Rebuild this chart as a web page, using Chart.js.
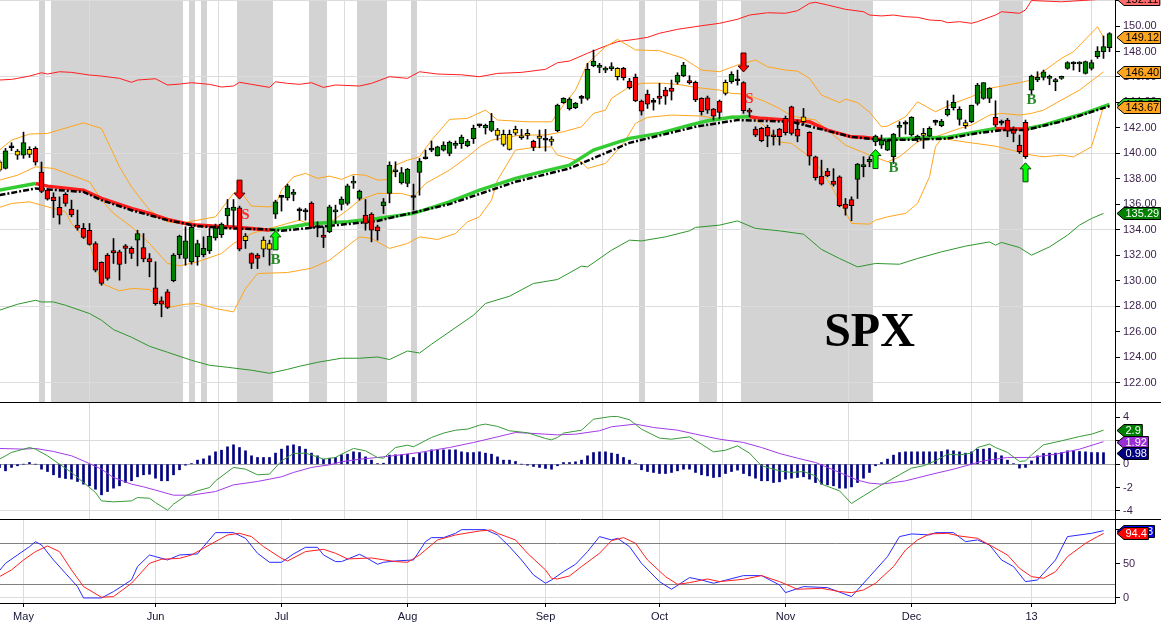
<!DOCTYPE html>
<html>
<head>
<meta charset="utf-8">
<title>SPX</title>
<script src="https://cdn.jsdelivr.net/npm/chart.js@4.4.1/dist/chart.umd.min.js"></script>
<style>
  html, body { margin: 0; padding: 0; background: #fff; }
  #wrap { position: relative; width: 1161px; height: 626px; overflow: hidden; }
  .pane { position: absolute; left: 0; width: 1161px; }
  #pricePane { top: 0; height: 403px; }
  #macdPane { top: 403px; height: 117px; }
  #stochPane { top: 520px; height: 106px; }
</style>
</head>
<body>
<div id="wrap">
  <div class="pane" id="pricePane"><canvas id="priceChart"></canvas></div>
  <div class="pane" id="macdPane"><canvas id="macdChart"></canvas></div>
  <div class="pane" id="stochPane"><canvas id="stochChart"></canvas></div>
</div>
<script>
// one slot per session, slot 0 = 25 Apr 2012
var monthStarts = [4, 26, 47, 68, 91, 110, 131, 152, 172];
var monthNames = ['May', 'Jun', 'Jul', 'Aug', 'Sep', 'Oct', 'Nov', 'Dec', '13'];

var opens = [139.34,138.82,140.57,140.18,139.87,140.31,140.39,138.53,137.12,136.57,
  135.76,136.78,135.62,134.37,134.11,133.97,132.93,131.44,132.01,132.38,
  132.27,132.74,132.54,133.19,132.61,131.75,129.45,128.42,129.13,130.00,
  132.06,131.75,131.49,131.88,132.06,132.35,133.37,133.63,135.10,135.52,
  135.73,133.50,132.14,132.01,133.19,132.93,135.23,136.63,136.51,136.78,
  135.60,135.52,136.10,134.31,133.58,133.84,135.41,135.99,136.07,137.67,
  136.46,135.15,135.23,134.24,135.89,136.85,138.56,137.69,137.64,136.65,
  138.50,139.68,140.36,139.81,140.26,140.00,140.63,140.76,140.60,141.15,
  142.28,141.99,141.80,141.83,141.49,141.49,141.88,141.38,141.52,140.94,
  141.36,141.15,141.12,141.78,143.98,143.51,143.58,144.42,144.32,146.88,
  146.75,146.54,146.65,146.67,146.67,145.68,145.97,144.11,144.66,144.11,
  144.50,144.97,145.13,145.60,146.10,145.68,145.57,144.32,144.37,143.48,
  144.11,145.57,145.63,145.81,145.55,143.40,141.91,141.96,142.04,141.41,
  141.91,142.75,143.66,141.91,142.88,141.65,139.74,138.22,138.61,137.82,
  138.16,136.02,136.38,137.95,138.95,139.34,140.90,140.65,140.26,139.74,
  142.04,142.41,141.46,141.15,141.52,141.36,142.54,142.17,143.03,143.59,
  142.67,142.41,142.49,143.92,144.32,144.32,142.83,142.49,142.62,141.83,
  140.65,142.43,144.97,145.76,145.97,145.89,145.63,145.89,146.67,147.12,
  147.02,146.28,146.67,147.59,147.98,148.30];
var highs = [139.47,140.39,140.84,140.31,141.67,140.52,140.52,139.32,137.25,136.91,
  136.59,136.91,136.33,135.55,134.50,134.50,133.06,131.49,132.14,133.32,
  132.40,132.85,132.67,133.97,133.71,132.14,131.49,128.74,129.31,132.14,
  133.58,134.24,134.37,133.19,133.45,134.11,134.45,134.55,136.38,136.38,
  135.86,133.71,132.19,132.14,133.45,133.19,136.33,136.72,137.59,137.17,
  135.73,135.68,136.20,134.63,134.24,135.94,135.94,136.59,137.59,138.22,
  137.12,136.38,135.34,134.37,136.46,139.34,139.34,138.90,138.82,137.59,
  139.60,140.26,140.97,140.57,140.91,140.97,140.97,141.44,141.10,142.22,
  142.30,142.30,143.14,141.96,141.83,141.83,142.14,141.88,141.88,141.04,
  141.83,141.88,141.31,143.87,144.37,144.37,144.00,144.55,147.07,148.11,
  147.07,146.80,147.12,146.73,146.75,145.89,146.23,144.19,144.97,144.32,
  145.50,145.18,145.76,146.33,147.15,146.10,145.68,144.37,144.50,143.53,
  144.19,145.76,146.41,146.54,145.63,143.53,142.09,142.04,142.22,141.83,
  141.96,142.93,143.71,142.62,143.53,141.70,139.79,139.47,138.82,138.80,
  138.24,136.46,136.59,139.21,139.74,139.74,141.44,141.44,141.10,141.57,
  142.49,142.56,142.88,141.44,141.96,142.09,142.62,142.67,144.13,144.58,
  143.66,142.62,143.79,145.50,145.55,145.16,144.13,142.62,142.75,142.09,
  141.44,142.62,146.15,146.41,146.54,146.15,145.89,146.07,147.20,147.20,
  147.20,147.25,147.33,148.38,149.21,149.48];
var lows = [138.56,138.77,140.21,139.53,139.61,139.68,139.08,136.91,136.33,134.97,
  134.45,135.86,135.02,133.97,133.32,132.80,130.70,129.65,130.05,131.36,
  130.05,131.36,131.75,131.17,131.49,130.31,128.08,127.17,127.82,129.92,
  131.75,131.22,131.30,131.22,131.88,132.14,133.19,133.40,134.37,134.24,
  132.35,132.54,130.96,130.96,131.88,131.22,134.89,135.47,136.33,136.28,
  134.76,134.76,134.11,133.45,132.61,133.77,134.50,135.55,135.94,137.25,
  136.33,133.97,133.06,133.19,135.28,136.12,138.16,137.59,137.38,135.55,
  136.72,139.55,140.13,139.79,140.18,139.81,140.39,140.39,140.52,140.78,
  142.04,141.52,141.70,141.04,140.57,140.26,141.44,141.10,141.12,140.21,
  140.44,140.18,140.63,141.70,143.92,143.40,143.51,143.92,144.19,146.80,
  146.33,146.33,146.49,145.76,145.76,145.05,144.06,143.01,143.53,143.40,
  143.87,143.85,144.19,145.44,146.02,145.44,144.06,143.01,143.14,142.62,
  142.75,144.58,145.50,145.36,143.14,142.88,141.31,140.91,140.52,140.65,
  140.65,141.44,141.44,140.91,142.22,139.08,137.90,137.51,138.16,137.43,
  135.81,135.15,134.71,136.46,138.16,138.95,140.60,140.39,140.21,139.21,
  141.31,141.52,141.36,140.91,140.39,141.31,142.22,142.09,142.93,143.40,
  142.22,141.96,142.41,143.79,144.24,143.98,142.09,142.22,141.31,140.91,
  140.00,139.60,144.58,145.63,145.76,145.39,144.92,145.81,146.60,146.54,
  146.41,146.23,146.54,147.46,147.46,147.98];
var closes = [138.69,140.21,140.44,139.87,140.84,139.92,139.32,137.01,136.41,136.28,
  135.15,136.07,135.18,134.13,133.40,132.85,130.83,129.79,130.18,132.19,
  131.28,132.54,132.14,133.71,131.72,131.49,128.21,128.16,127.90,132.01,
  133.50,133.14,134.19,132.93,132.54,133.50,134.16,134.45,135.70,135.78,
  132.48,133.14,131.36,131.75,132.48,132.46,136.20,136.55,137.46,136.96,
  135.49,135.41,134.18,134.18,133.40,135.81,135.52,136.41,137.46,137.77,
  137.04,134.50,133.97,133.92,136.20,139.08,138.69,138.50,138.77,136.54,
  139.39,139.58,140.26,140.52,140.65,140.89,140.76,141.28,140.97,141.96,
  142.17,142.20,142.51,141.41,140.70,140.31,141.59,141.23,141.41,140.47,
  141.18,141.04,140.94,143.79,144.32,144.26,143.95,144.32,146.60,147.25,
  146.94,146.65,146.78,146.02,145.94,145.15,144.11,143.32,143.87,144.00,
  144.32,144.50,144.87,146.15,146.94,145.55,144.19,143.27,143.40,142.93,
  143.22,144.71,146.20,145.70,143.35,143.24,141.44,140.99,141.36,141.31,
  141.31,141.62,141.57,141.36,142.49,139.79,138.09,137.59,138.24,137.56,
  135.89,135.68,135.89,139.16,139.13,139.53,141.36,141.04,140.97,141.52,
  142.14,142.30,142.83,141.36,141.41,141.96,142.43,142.54,143.45,144.00,
  143.45,142.17,143.79,145.36,145.55,145.10,142.22,142.38,141.75,141.57,
  140.13,139.74,146.07,145.97,146.41,145.99,145.76,145.99,147.12,147.02,
  147.12,147.20,147.12,148.04,148.38,149.40];
// G up, R down, Y neutral, K doji
var tones = 'YGKYGYRRRR' + 'RRRRRRRRRR' + 'RRRGRRRRRG' + 'GGGGGGGGGG' + 'RYRRYYGKGG' +
  'KKRKRGGGGG' + 'GRRRGGGGGK' + 'GKKGGGGGGG' + 'KGGYYYYYYR' + 'YKYGGGGKGG' +
  'GGGYRRRRRK' + 'RRRGGRRRRR' + 'RYGKRRRRRR' + 'RRRRYRRRRR' + 'RRRGGGGGGG' +
  'GKGGYGKGGG' + 'GYGGGGRKRR' + 'RRGGGGGGGK' + 'GGGGGG';

// [session, value] readings
var envUpper = [[0,145.76],[2,145.81],[3,145.89],[5,146.07],[7,146.33],[8,146.23],[10,146.41],[12,146.36],[15,146.15],[17,146.07],[20,145.89],[22,145.58],[23,145.76],[26,145.86],[28,145.37],[30,145.44],[32,145.55],[35,145.42],[37,145.21],[39,145.29],[40,145.58],[42,145.42],[45,145.18],[46,145.62],[48,145.5],[50,145.42],[52,145.55],[54,145.18],[56,145.37],[60,145.29],[62,145.5],[65,146.02],[68,145.89],[70,146.41],[73,146.23],[77,146.17],[80,146.02],[83,146.28],[87,146.36],[91,146.6],[93,147.12],[95,147.25],[98,147.86],[101,148.43],[103,148.77],[106,148.96],[108,149.11],[110,149.43],[113,149.74],[117,150.02],[120,150.21],[123,150.53],[125,150.86],[128,151.04],[131,151.0],[133,151.2],[135,151.78],[136,151.86],[138,151.65],[141,151.31],[144,151.12],[145,150.86],[147,150.79],[149,150.86],[151,150.73],[153,150.68],[155,150.47],[157,150.42],[158,150.26],[160,150.34],[162,150.21],[163,150.34],[166,150.86],[167,151.12],[170,151.0],[171,151.26],[172,152.0],[177,151.9],[184,152.11]];
var envLower = [[0,127.69],[3,128.16],[6,128.47],[7,128.34],[9,128.34],[11,128.08],[15,127.43],[17,126.9],[19,126.17],[22,125.57],[25,124.86],[28,124.39],[32,123.76],[35,123.37],[38,123.21],[42,122.98],[45,122.74],[48,123.05],[50,123.29],[53,123.6],[57,123.92],[60,123.92],[63,124.02],[65,123.82],[68,124.49],[70,124.33],[72,125.02],[79,127.3],[81,128.22],[85,128.79],[89,129.79],[93,130.1],[97,131.15],[98,131.09],[102,132.4],[105,133.19],[107,133.13],[111,133.45],[115,133.92],[116,134.19],[120,134.37],[123,134.7],[126,134.11],[130,133.92],[134,133.66],[137,132.46],[140,131.75],[143,131.09],[146,131.36],[150,131.3],[153,131.75],[157,132.27],[161,132.72],[165,133.05],[166,132.8],[167,133.01],[170,132.61],[172,132.01],[175,132.66],[178,133.58],[180,134.37],[182,134.89],[184,135.29]];
var bbUpper = [[0,140.26],[2,141.04],[5,141.52],[8,141.57],[14,142.4],[17,141.96],[20,138.95],[22,137.37],[25,135.55],[28,134.63],[30,134.5],[33,134.76],[36,135.02],[39,136.86],[40,137.12],[42,135.86],[45,135.8],[46,135.94],[47,137.12],[49,138.16],[51,138.43],[53,138.04],[55,138.22],[57,137.96],[59,138.35],[61,138.29],[63,137.9],[65,137.96],[66,139.08],[68,139.47],[70,139.73],[72,141.04],[75,142.67],[78,142.75],[81,143.4],[83,142.62],[88,142.48],[92,142.48],[94,143.79],[96,144.97],[98,147.07],[101,148.37],[103,148.95],[106,148.12],[110,148.06],[114,147.46],[117,146.54],[120,146.41],[123,146.94],[126,147.33],[128,146.8],[131,146.54],[133,146.46],[135,145.89],[137,144.58],[140,143.99],[141,144.26],[143,143.99],[145,143.24],[147,142.09],[148,142.14],[151,142.87],[153,144.05],[156,143.27],[159,143.93],[162,144.45],[165,145.11],[168,145.37],[170,145.55],[172,145.76],[177,147.46],[179,147.98],[183,149.94],[184,149.12]];
var bbMid = [[0,137.9],[3,138.29],[6,138.95],[9,138.82],[12,138.29],[15,137.77],[17,136.33],[19,135.29],[22,134.23],[25,132.93],[27,131.88],[28,131.36],[30,131.17],[33,131.49],[37,132.14],[39,132.93],[42,133.71],[45,134.11],[47,134.37],[50,134.76],[52,134.37],[55,134.55],[58,135.55],[60,136.33],[63,136.86],[67,136.86],[69,136.59],[71,137.64],[75,138.69],[78,139.73],[80,140.52],[82,141.04],[85,141.3],[87,141.44],[91,141.44],[94,141.7],[97,142.09],[99,143.14],[101,143.4],[102,144.32],[105,145.23],[107,145.5],[110,145.52],[113,145.42],[116,145.18],[120,144.97],[122,144.71],[124,144.66],[127,144.19],[130,143.53],[132,142.93],[136,142.62],[140,141.04],[141,140.65],[145,139.87],[148,139.34],[150,139.73],[153,140.91],[156,141.3],[160,141.96],[162,142.22],[165,143.01],[167,143.14],[170,143.01],[172,143.14],[174,143.4],[177,144.19],[180,144.97],[184,146.4]];
var bbLower = [[0,135.76],[2,136.07],[5,136.2],[7,135.94],[11,135.41],[12,134.5],[15,132.93],[17,129.79],[20,129.21],[22,129.4],[25,129.32],[28,127.9],[31,128.16],[33,128.22],[36,127.82],[39,127.56],[41,129.39],[43,130.57],[48,130.65],[52,130.99],[55,131.62],[60,133.45],[62,133.32],[65,132.54],[68,132.93],[70,133.45],[73,133.24],[76,133.71],[78,134.63],[80,135.02],[82,136.33],[83,137.9],[86,140.26],[89,140.47],[92,140.52],[93,139.87],[97,139.34],[98,138.82],[101,139.21],[104,140.79],[106,142.36],[108,142.83],[112,143.01],[117,142.93],[120,142.67],[122,142.93],[125,142.83],[127,142.36],[130,140.89],[132,140.79],[135,139.73],[137,138.69],[139,137.12],[141,135.41],[142,134.5],[145,134.45],[146,134.76],[148,135.02],[151,135.29],[153,136.07],[155,138.16],[156,140.52],[157,141.18],[161,140.89],[166,140.57],[170,140.1],[172,139.87],[174,139.73],[177,139.87],[179,139.73],[182,140.52],[183,142.09],[184,143.67]];
var maFast = [[0,137.12],[6,137.64],[8,137.43],[14,137.12],[17,136.47],[22,135.68],[25,135.29],[28,134.81],[31,134.5],[33,134.37],[36,134.29],[39,134.23],[42,134.11],[45,133.97],[47,134.11],[52,134.5],[58,134.63],[63,134.89],[69,135.29],[75,136.2],[80,137.12],[86,138.04],[91,138.63],[95,139.08],[99,140.26],[105,141.18],[110,141.57],[115,142.22],[118,142.56],[122,142.83],[125,142.87],[127,142.75],[131,142.62],[135,142.48],[138,141.83],[142,141.3],[144,141.26],[147,141.1],[152,141.18],[158,141.26],[163,141.7],[166,141.96],[171,141.91],[174,142.22],[177,142.62],[180,143.01],[185,143.85]];
var maSlow = [[0,136.72],[6,137.25],[8,137.17],[14,136.98],[17,136.33],[22,135.54],[28,134.76],[33,134.29],[39,134.11],[45,134.03],[47,133.92],[63,134.7],[75,136.02],[86,137.77],[95,138.82],[105,140.83],[116,142.09],[123,142.62],[132,142.48],[142,141.3],[147,141.04],[152,141.08],[158,141.16],[163,141.59],[167,141.83],[171,141.83],[177,142.5],[185,143.71]];

var macdHist = [-0.3,-0.57,-0.28,-0.14,0,0.14,0,-0.43,-0.63,-0.91,
  -1.14,-1.23,-1.28,-1.48,-1.71,-1.85,-2.14,-2.62,-2.34,-2.05,
  -1.85,-1.57,-1.42,-1.08,-0.91,-0.86,-1.2,-1.42,-1.42,-0.91,
  -0.48,-0.09,0.05,0.34,0.45,0.71,1.05,1.19,1.48,1.65,
  1.42,1.14,0.71,0.57,0.57,0.57,0.94,1.28,1.56,1.65,
  1.51,1.28,0.94,0.71,0.43,0.51,0.57,0.8,0.85,1.05,
  0.99,0.62,0.34,0.05,0.08,0.77,0.8,0.8,0.85,0.57,
  0.94,0.99,1.22,1.22,1.22,1.22,1.22,1.05,0.99,0.99,
  1.05,0.94,0.85,0.62,0.34,0.34,0.23,0,-0.09,-0.2,
  -0.28,-0.37,-0.43,-0.14,0.14,0.14,0.2,0.34,0.71,0.99,
  1.05,1.05,0.94,0.85,0.57,0.34,0.03,-0.48,-0.63,-0.71,
  -0.8,-0.8,-0.71,-0.57,-0.43,-0.43,-0.71,-0.91,-1.0,-1.14,
  -1.08,-0.8,-0.63,-0.51,-0.8,-1.0,-1.2,-1.42,-1.42,-1.57,
  -1.51,-1.28,-1.2,-1.14,-1.08,-1.28,-1.57,-1.71,-1.77,-1.85,
  -2.05,-2.05,-1.94,-1.57,-1.2,-0.71,-0.14,0.14,0.43,0.77,
  0.99,1.05,1.05,1.05,1.05,1.05,1.05,1.08,1.22,1.14,
  1.05,0.94,1.05,1.28,1.28,1.34,0.99,0.71,0.34,0.03,
  -0.34,-0.28,0.28,0.71,0.91,0.94,0.94,0.99,1.14,1.14,
  1.08,1.05,0.99,0.99,0.98];
var macdLine = [[0,0.42],[2,1.0],[3,1.14],[5,1.42],[6,1.28],[8,0.71],[10,0],[12,-0.71],[14,-1.57],[16,-2.42],[17,-3.14],[19,-3.22],[22,-3.14],[23,-2.85],[25,-2.91],[26,-3.28],[28,-3.93],[29,-3.42],[31,-2.71],[33,-2.28],[35,-2.0],[36,-1.43],[39,-0.28],[41,-0.43],[43,-0.91],[45,-0.85],[47,0.28],[49,0.91],[51,0.94],[53,0.62],[54,0.42],[56,0.57],[57,0.85],[59,1.34],[61,1.14],[63,0.57],[64,0.51],[66,1.42],[68,1.62],[69,1.48],[72,2.28],[74,2.65],[76,2.9],[78,2.99],[80,3.33],[81,3.42],[83,3.22],[85,2.85],[88,2.68],[91,2.19],[92,2.08],[93,2.28],[94,2.65],[97,2.9],[99,3.84],[102,4.07],[103,4.07],[105,3.79],[107,2.99],[110,2.22],[112,2.13],[115,2.33],[117,1.71],[119,1.05],[121,1.19],[123,1.56],[125,0.94],[127,-0.14],[130,-0.57],[132,-0.71],[134,-0.63],[136,-1.0],[137,-1.71],[140,-2.28],[142,-3.36],[144,-2.71],[147,-1.77],[150,-0.91],[152,-0.34],[154,-0.14],[156,0.28],[158,0.85],[160,0.79],[162,0.94],[163,1.42],[165,1.71],[166,1.42],[168,1.0],[170,0.23],[171,0.28],[172,0.79],[174,1.65],[177,1.99],[180,2.36],[182,2.56],[184,2.9]];
var signalLine = [[0,1.34],[4,1.28],[6,1.34],[9,1.08],[12,0.71],[14,0.28],[17,-0.43],[19,-1.14],[22,-1.71],[24,-1.94],[26,-2.22],[29,-2.65],[32,-2.65],[36,-2.34],[39,-1.77],[43,-1.48],[47,-1.08],[49,-0.71],[52,-0.28],[55,-0.06],[57,0.2],[60,0.42],[63,0.57],[67,0.8],[70,1.0],[75,1.42],[79,1.85],[83,2.33],[86,2.7],[88,2.65],[91,2.56],[93,2.5],[96,2.56],[100,2.85],[102,3.19],[106,3.42],[109,3.13],[113,2.9],[116,2.56],[120,2.13],[124,1.85],[127,1.42],[130,0.91],[133,0.51],[136,0.14],[138,-0.28],[140,-0.71],[143,-1.37],[145,-1.62],[147,-1.71],[151,-1.43],[155,-0.91],[159,-0.43],[164,0.28],[168,0.57],[172,0.57],[176,0.85],[180,1.28],[184,1.92]];

var stochK = [[0,40],[1,50.7],[3,62.9],[5,75.1],[6,82.4],[7,77.6],[9,55.6],[11,36.1],[13,16.6],[14,0],[17,0],[19,9.3],[22,26.3],[23,45.9],[25,62.9],[26,60.5],[28,55.6],[30,62.9],[33,64.4],[34,75.1],[36,95.6],[39,95.6],[41,87.3],[43,65.4],[45,52.2],[47,52.2],[49,64.4],[51,74.1],[53,74.1],[54,62.9],[56,53.2],[57,53.2],[60,63.9],[61,59.5],[63,49.3],[64,52.2],[66,54.1],[69,55.6],[71,82.4],[72,88.3],[74,88.3],[76,94.6],[77,100],[81,100],[83,92.2],[85,75.1],[87,55.6],[89,33.7],[91,21.5],[92,26.3],[94,38.5],[96,49.3],[98,67.8],[100,89.8],[102,84.9],[103,87.3],[105,75.1],[107,50.7],[110,23.9],[112,12.7],[115,29.8],[117,26.3],[119,21.5],[124,32.7],[127,32.7],[130,19.0],[131,7.8],[134,16.6],[138,15.1],[142,2.0],[145,31.2],[148,60.5],[150,89.8],[152,93.7],[155,92.2],[156,95.6],[159,95.6],[161,82.4],[163,84.9],[165,77.6],[167,55.6],[169,45.9],[171,23.9],[173,26.3],[176,55.6],[178,89.8],[182,94.6],[184,98.53]];
var stochD = [[0,31.2],[2,41.0],[4,55.6],[6,67.8],[8,76.1],[10,67.8],[12,41.0],[14,16.6],[17,1.0],[19,2.0],[22,21.5],[25,50.7],[27,56.6],[30,58.0],[32,62.9],[35,77.6],[38,92.2],[40,94.6],[42,89.8],[44,75.1],[47,58.0],[48,54.1],[51,67.8],[54,71.2],[56,65.4],[58,57.1],[62,58.5],[66,53.2],[68,52.2],[70,62.9],[73,84.9],[76,92.2],[80,98.0],[82,99.5],[83,94.6],[86,84.9],[88,65.4],[91,41.0],[92,28.8],[93,27.8],[95,32.2],[97,45.9],[100,65.4],[102,83.9],[104,88.3],[106,80.0],[108,55.6],[111,31.2],[113,20.0],[115,22.4],[118,27.8],[120,23.9],[124,27.3],[127,32.7],[130,23.9],[133,12.7],[137,14.1],[140,9.3],[142,7.8],[144,11.7],[146,21.5],[149,45.9],[151,70.2],[153,84.9],[155,93.7],[158,94.6],[160,90.7],[163,87.3],[165,77.6],[168,62.9],[170,43.4],[172,31.2],[174,28.8],[176,38.5],[178,60.5],[181,80.0],[183,89.8],[184,94.4]];

// shaded sessions [first, last]
var shadeSpans = [[7,7],[9,30],[32,32],[34,34],[40,45],[52,54],[60,64],[69,69],[107,107],[117,119],[124,145],[167,170]];
// signals: [session, price at arrow tip]
var sellArrows = [[40,136.41],[124,146.39]];
var buyArrows = [[46,133.92],[146,140.3],[171,139.26]];
var signalLetters = [[41,135.15,'S'],[125,144.24,'S'],[46,131.62,'B'],[149,138.82,'B'],[172,144.19,'B']];

// ---------------------------------------------------------------
var FONT = '"Liberation Sans", Arial, sans-serif';
Chart.defaults.font.family = FONT;
Chart.defaults.font.size = 11;

function pts(pairs) {
  return pairs.map(function (p) { return { x: p[0], y: p[1] }; });
}
function last(pairs) { return pairs[pairs.length - 1][1]; }

function xAxis(showLabels) {
  return {
    type: 'linear', min: 0.5 / 6, max: 1115.5 / 6, offset: false,
    afterBuildTicks: function (s) { s.ticks = monthStarts.map(function (v) { return { value: v }; }); },
    afterFit: function (s) {
      s.height = showLabels ? 23 : 0;
      s.paddingLeft = 0; s.paddingRight = 0;
    },
    grid: { color: '#dcdcdc', drawTicks: showLabels, tickLength: 4, tickColor: '#000' },
    border: { display: showLabels, color: '#000' },
    ticks: {
      display: showLabels, autoSkip: false, maxRotation: 0, padding: 3, color: '#141432',
      callback: function (v) { return monthNames[monthStarts.indexOf(v)]; }
    }
  };
}

function yAxis(min, max, tickVals, gridColor, tickColor, label) {
  return {
    type: 'linear', position: 'right', min: min, max: max,
    afterBuildTicks: function (s) { s.ticks = tickVals.map(function (v) { return { value: v }; }); },
    afterFit: function (s) {
      s.width = 46;
      s.paddingTop = 0; s.paddingBottom = 0;
    },
    border: { display: true, color: '#000' },
    grid: {
      color: function (c) { return gridColor(c.tick.value); },
      tickColor: function (c) { return tickColor(c.tick.value); },
      drawTicks: true, tickLength: 5
    },
    ticks: { padding: 3, color: '#3a1f4c', callback: label }
  };
}

function baseOptions(showX, yCfg) {
  return {
    responsive: true, maintainAspectRatio: false, animation: false, events: [],
    devicePixelRatio: 1,
    layout: { padding: 0, autoPadding: false },
    elements: { point: { radius: 0 }, line: { tension: 0, borderWidth: 1, fill: false } },
    plugins: { legend: { display: false }, tooltip: { enabled: false } },
    scales: { x: xAxis(showX), y: yCfg }
  };
}

function drawTag(ctx, left, y, text, fill, ink) {
  ctx.font = '11px ' + FONT;
  var w = ctx.measureText(text).width, h = 12, tip = 7;
  ctx.beginPath();
  ctx.moveTo(left, y);
  ctx.lineTo(left + tip, y - h / 2);
  ctx.lineTo(left + tip + w + 3, y - h / 2);
  ctx.lineTo(left + tip + w + 3, y + h / 2);
  ctx.lineTo(left + tip, y + h / 2);
  ctx.closePath();
  ctx.fillStyle = fill;
  ctx.fill();
  ctx.strokeStyle = '#000';
  ctx.lineWidth = 1;
  ctx.stroke();
  ctx.fillStyle = ink;
  ctx.textBaseline = 'middle';
  ctx.textAlign = 'left';
  ctx.fillText(text, left + tip + 1.5, y + 0.5);
}

function tagPlugin(tags) {
  return {
    id: 'tags',
    afterDraw: function (chart) {
      var ctx = chart.ctx, y = chart.scales.y;
      ctx.save();
      tags.forEach(function (t) {
        drawTag(ctx, chart.chartArea.right + 2, Math.round(y.getPixelForValue(t.v)) + 0.5, t.text, t.fill, t.ink);
      });
      ctx.restore();
    }
  };
}

var bottomRule = {
  id: 'bottomRule',
  afterDraw: function (chart) {
    var ctx = chart.ctx;
    ctx.save();
    ctx.strokeStyle = '#000';
    ctx.lineWidth = 1;
    ctx.beginPath();
    ctx.moveTo(0, chart.height - 0.5);
    ctx.lineTo(chart.width, chart.height - 0.5);
    ctx.stroke();
    ctx.restore();
  }
};

// ---------------------------------------------------------------
// price pane
var toneColor = { G: '#008000', R: '#ff0000', Y: '#ffd700', K: '#000000' };
var bodyData = opens.map(function (o, i) {
  return { x: i, y: [Math.min(o, closes[i]), Math.max(o, closes[i])] };
});
var wickData = highs.map(function (h, i) { return { x: i, y: [lows[i], h] }; });
var bodyColors = tones.split('').map(function (t) { return toneColor[t]; });

var shading = {
  id: 'shading',
  beforeDraw: function (chart) {
    var ctx = chart.ctx, x = chart.scales.x, a = chart.chartArea;
    ctx.save();
    ctx.fillStyle = '#d3d3d3';
    shadeSpans.forEach(function (s) {
      var l = Math.round(x.getPixelForValue(s[0] - 0.5));
      var r = Math.round(x.getPixelForValue(s[1] + 0.5));
      ctx.fillRect(l, a.top, r - l, a.bottom - a.top);
    });
    ctx.restore();
  }
};

function arrow(ctx, x, tipY, dir, fill, stroke) {
  // dir 1: points down, -1: points up
  var len = 19, head = 6, sw = 2.5, hw = 5.5;
  ctx.beginPath();
  ctx.moveTo(x - sw, tipY - dir * len);
  ctx.lineTo(x + sw, tipY - dir * len);
  ctx.lineTo(x + sw, tipY - dir * head);
  ctx.lineTo(x + hw, tipY - dir * head);
  ctx.lineTo(x, tipY);
  ctx.lineTo(x - hw, tipY - dir * head);
  ctx.lineTo(x - sw, tipY - dir * head);
  ctx.closePath();
  ctx.fillStyle = fill;
  ctx.fill();
  ctx.strokeStyle = stroke;
  ctx.lineWidth = 1;
  ctx.stroke();
}

var signals = {
  id: 'signals',
  afterDatasetsDraw: function (chart) {
    var ctx = chart.ctx, x = chart.scales.x, y = chart.scales.y;
    ctx.save();
    sellArrows.forEach(function (s) {
      arrow(ctx, x.getPixelForValue(s[0]), y.getPixelForValue(s[1]), 1, '#ff0000', '#3a0000');
    });
    buyArrows.forEach(function (s) {
      arrow(ctx, x.getPixelForValue(s[0]), y.getPixelForValue(s[1]), -1, '#00ff00', '#004000');
    });
    ctx.font = 'bold 15px "Liberation Serif", serif';
    ctx.textAlign = 'center';
    ctx.textBaseline = 'middle';
    signalLetters.forEach(function (s) {
      ctx.fillStyle = s[2] === 'S' ? '#ff2a2a' : '#2a8a2a';
      ctx.fillText(s[2], x.getPixelForValue(s[0]), y.getPixelForValue(s[1]));
    });
    ctx.fillStyle = '#000';
    ctx.font = 'bold 48px "Liberation Serif", serif';
    ctx.textBaseline = 'alphabetic';
    ctx.fillText('SPX', 869.5, 346);
    ctx.restore();
  }
};

new Chart(document.getElementById('priceChart'), {
  type: 'line',
  data: {
    datasets: [
      { type: 'bar', data: bodyData, backgroundColor: bodyColors, borderColor: '#000', borderWidth: 1,
        borderSkipped: false, barThickness: 5, grouped: false, minBarLength: 2, order: 0 },
      { type: 'bar', data: wickData, backgroundColor: '#000', barThickness: 1, grouped: false, order: 1 },
      { data: pts(maSlow), borderColor: '#000', borderWidth: 2.5, borderDash: [6, 2, 2, 2], order: 2 },
      { data: pts(maFast), borderWidth: 3.5, borderColor: '#33cc33', order: 3,
        segment: { borderColor: function (c) { return c.p1.parsed.y < c.p0.parsed.y ? '#ff1e1e' : '#33cc33'; } } },
      { data: pts(bbUpper), borderColor: '#ffa51f', order: 4 },
      { data: pts(bbMid), borderColor: '#ffa51f', order: 4 },
      { data: pts(bbLower), borderColor: '#ffa51f', order: 4 },
      { data: pts(envUpper), borderColor: '#ff1e1e', order: 5 },
      { data: pts(envLower), borderColor: '#2e962e', order: 5 }
    ]
  },
  options: baseOptions(false, yAxis(120.407, 152.041,
    [122, 124, 126, 128, 130, 132, 134, 136, 138, 140, 142, 144, 146, 148, 150, 152],
    function (v) { return (v - 122) % 6 === 0 ? '#dcdcdc' : 'rgba(0,0,0,0)'; },
    function () { return '#000'; },
    function (v) { return v.toFixed(2); })),
  plugins: [shading, signals, bottomRule, tagPlugin([
    { v: last(envUpper), text: last(envUpper).toFixed(2), fill: '#ff6a6a', ink: '#000' },
    { v: last(bbUpper), text: last(bbUpper).toFixed(2), fill: '#ffa51f', ink: '#000' },
    { v: last(bbMid), text: last(bbMid).toFixed(2), fill: '#ffa51f', ink: '#000' },
    { v: last(maFast), text: last(maFast).toFixed(2), fill: '#33cc33', ink: '#000' },
    { v: last(bbLower), text: last(bbLower).toFixed(2), fill: '#ffa51f', ink: '#000' },
    { v: last(envLower), text: last(envLower).toFixed(2), fill: '#008000', ink: '#fff' }
  ])]
});

// ---------------------------------------------------------------
// MACD pane
var histData = macdHist.map(function (v, i) { return { x: i, y: v }; });
function short(v) { return String(+v.toFixed(2)); }

new Chart(document.getElementById('macdChart'), {
  type: 'line',
  data: {
    datasets: [
      { data: pts(macdLine), borderColor: '#3a9a3a', order: 0 },
      { data: pts(signalLine), borderColor: '#a23be8', order: 1 },
      { type: 'bar', data: histData, backgroundColor: '#000080', barThickness: 2, grouped: false, order: 2 }
    ]
  },
  options: baseOptions(false, yAxis(-4.770, 5.221, [-4, -2, 0, 2, 4],
    function (v) { return v === 0 ? '#a0a0a0' : (v === 2 || v === -4 ? '#dcdcdc' : 'rgba(0,0,0,0)'); },
    function () { return '#000'; },
    function (v) { return String(v); })),
  plugins: [bottomRule, tagPlugin([
    { v: last(macdLine), text: short(last(macdLine)), fill: '#008000', ink: '#fff' },
    { v: last(signalLine), text: short(last(signalLine)), fill: '#9a2fd8', ink: '#fff' },
    { v: macdHist[macdHist.length - 1], text: short(macdHist[macdHist.length - 1]), fill: '#000080', ink: '#fff' }
  ])]
});

// ---------------------------------------------------------------
// stochastic pane
new Chart(document.getElementById('stochChart'), {
  type: 'line',
  data: {
    datasets: [
      { data: pts(stochD), borderColor: '#ff2020', order: 0 },
      { data: pts(stochK), borderColor: '#2a2aff', order: 1 }
    ]
  },
  options: baseOptions(true, yAxis(-7.4, 114.1, [0, 20, 50, 80, 100],
    function (v) { return v === 0 ? '#dcdcdc' : (v === 20 || v === 80 ? '#808080' : 'rgba(0,0,0,0)'); },
    function (v) { return v === 20 || v === 80 ? 'rgba(0,0,0,0)' : '#000'; },
    function (v) { return v === 20 || v === 80 ? '' : String(v); })),
  plugins: [tagPlugin([
    { v: last(stochK), text: short(last(stochK)), fill: '#0000ff', ink: '#fff' },
    { v: last(stochD), text: short(last(stochD)), fill: '#ff0000', ink: '#fff' }
  ])]
});
</script>
</body>
</html>
